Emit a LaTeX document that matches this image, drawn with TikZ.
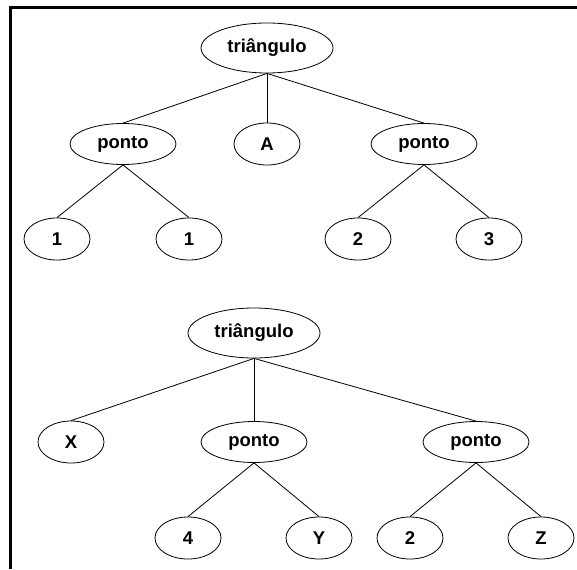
\documentclass[tikz,border=0pt]{standalone}
\usepackage{fontspec}
\setmainfont{Liberation Sans}
\usetikzlibrary{shapes.geometric}

\begin{document}
\begin{tikzpicture}
  [x=1pt,y=-1pt,
   main node/.style={ellipse,draw,line width=0.8pt,inner sep=0pt,
     font=\fontsize{18.5}{22}\selectfont\bfseries},
   root node/.style={main node,minimum width=132pt,minimum height=50pt},
   mid node/.style={main node,minimum width=106pt,minimum height=41pt},
   leaf node/.style={main node,minimum width=66pt,minimum height=42pt}]
  \useasboundingbox (0,0) rectangle (577,569);
  \draw[line width=2.6pt] (10,7.3) -- (577,7.3);
  \draw[line width=2.6pt] (10.7,6) -- (10.7,569);

  % first tree
  \node[root node] (t1) at (267,48) {triângulo};
  \node[mid node] (p1) at (123,144) {ponto};
  \node[leaf node] (a1) at (267,144) {A};
  \node[mid node] (p2) at (424,144) {ponto};
  \node[leaf node] (l1) at (57,239) {1};
  \node[leaf node] (l2) at (189,239) {1};
  \node[leaf node] (l3) at (358,239) {2};
  \node[leaf node] (l4) at (489,239) {3};

  \path[] (t1.south) [-, line width=0.8pt] edge (p1.north);
  \path[] (t1.south) [-, line width=0.8pt] edge (a1.north);
  \path[] (t1.south) [-, line width=0.8pt] edge (p2.north);
  \path[] (p1.south) [-, line width=0.8pt] edge (l1.north);
  \path[] (p1.south) [-, line width=0.8pt] edge (l2.north);
  \path[] (p2.south) [-, line width=0.8pt] edge (l3.north);
  \path[] (p2.south) [-, line width=0.8pt] edge (l4.north);

  % second tree
  \node[root node] (t2) at (254,333) {triângulo};
  \node[leaf node] (x1) at (71,442) {X};
  \node[mid node] (p3) at (254,442) {ponto};
  \node[mid node] (p4) at (476,442) {ponto};
  \node[leaf node] (l5) at (188,538) {4};
  \node[leaf node] (l6) at (319,538) {Y};
  \node[leaf node] (l7) at (410,538) {2};
  \node[leaf node] (l8) at (541,538) {Z};

  \path[] (t2.south) [-, line width=0.8pt] edge (x1.north);
  \path[] (t2.south) [-, line width=0.8pt] edge (p3.north);
  \path[] (t2.south) [-, line width=0.8pt] edge (p4.north);
  \path[] (p3.south) [-, line width=0.8pt] edge (l5.north);
  \path[] (p3.south) [-, line width=0.8pt] edge (l6.north);
  \path[] (p4.south) [-, line width=0.8pt] edge (l7.north);
  \path[] (p4.south) [-, line width=0.8pt] edge (l8.north);
\end{tikzpicture}
\end{document}
